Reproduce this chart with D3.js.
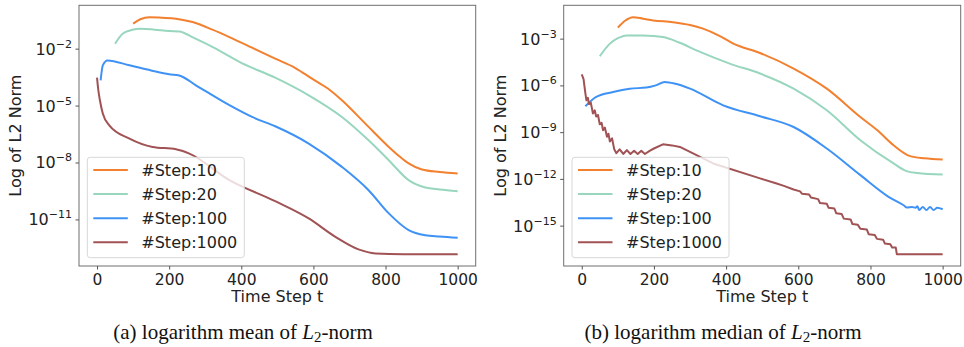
<!DOCTYPE html>
<html>
<head>
<meta charset="utf-8">
<script src="https://cdn.jsdelivr.net/npm/d3@7"></script>
<style>
  body { margin: 0; background: #fff; }
  svg { display: block; }
</style>
</head>
<body>
<div id="chart"></div>
<script>
// Series as [time step, log10 of L2 norm].
const stepLabels = ["#Step:10", "#Step:20", "#Step:100", "#Step:1000"];
const colors = ["#f2802f", "#98d6bd", "#3f92f5", "#a05254"];

const meanStep10 = [[100,-0.68],[120,-0.45],[145,-0.34],[180,-0.37],[219,-0.42],[265,-0.60],[320,-1.0],[367,-1.39],[430,-1.95],[494,-2.53],[550,-3.02],[596,-3.58],[640,-4.1],[679,-4.72],[744,-5.95],[809,-7.18],[840,-7.7],[864,-8.05],[901,-8.37],[950,-8.5],[1000,-8.58]];
const meanStep20 = [[50,-1.74],[71,-1.21],[95,-1.02],[122,-0.95],[160,-1.0],[200,-1.07],[228,-1.09],[270,-1.45],[321,-1.92],[400,-2.75],[494,-3.53],[587,-4.46],[679,-5.6],[753,-6.83],[809,-7.88],[864,-8.93],[910,-9.32],[950,-9.42],[1000,-9.51]];
const meanStep100 = [[10,-3.67],[16,-2.88],[29,-2.62],[90,-2.88],[150,-3.15],[200,-3.35],[228,-3.41],[274,-3.93],[367,-4.98],[430,-5.6],[494,-6.09],[587,-7.0],[679,-8.23],[753,-9.46],[809,-10.68],[864,-11.56],[910,-11.83],[950,-11.9],[1000,-11.97]];
const meanStep1000 = [[0,-3.53],[3,-4.1],[8,-4.72],[16,-5.42],[34,-6.04],[90,-6.74],[154,-7.18],[219,-7.3],[256,-7.53],[367,-8.93],[494,-10.04],[587,-10.95],[661,-11.92],[725,-12.58],[772,-12.79],[850,-12.83],[1000,-12.83]];

const medianStep10 = [[100,-2.29],[120,-1.85],[142,-1.62],[170,-1.72],[198,-1.83],[253,-1.94],[300,-2.12],[336,-2.36],[380,-2.8],[420,-3.32],[494,-3.92],[587,-4.92],[679,-6.21],[772,-8.03],[820,-8.9],[864,-9.84],[910,-10.54],[950,-10.68],[1000,-10.76]];
const medianStep20 = [[50,-4.13],[78,-3.32],[100,-2.97],[124,-2.79],[170,-2.8],[225,-2.9],[270,-3.25],[318,-3.75],[410,-4.6],[494,-5.24],[587,-6.21],[679,-7.6],[772,-9.52],[864,-11.01],[900,-11.5],[929,-11.62],[1000,-11.72]];
const medianStep100 = [[10,-7.34],[40,-6.74],[87,-6.42],[133,-6.21],[179,-6.14],[205,-6.0],[230,-5.78],[260,-5.9],[300,-6.21],[392,-7.28],[494,-7.98],[587,-8.67],[679,-10.05],[772,-11.76],[850,-13.15],[892,-13.69],[901,-13.83],[915,-13.8],[925,-13.85],[930,-13.75],[935,-14.0],[945,-13.8],[955,-14.0],[965,-13.8],[975,-14.0],[985,-13.85],[1000,-13.95]];
const medianStep1000 = [[0,-5.29],[5,-5.6],[10,-6.5],[13,-6.96],[17,-6.8],[20,-7.2],[25,-7.1],[31,-7.81],[36,-7.6],[40,-8.0],[45,-7.9],[50,-8.5],[55,-8.4],[59,-8.88],[64,-8.7],[70,-9.3],[74,-9.1],[78,-9.6],[84,-9.4],[90,-10.1],[96,-10.35],[105,-10.1],[115,-10.4],[125,-10.15],[135,-10.4],[145,-10.2],[155,-10.4],[165,-10.2],[175,-10.4],[188,-10.2],[200,-10.05],[225,-9.78],[250,-9.85],[272,-9.95],[364,-11.01],[494,-11.97],[540,-12.3],[560,-12.45],[587,-12.68],[605,-12.8],[610,-12.95],[630,-13.0],[635,-13.2],[655,-13.3],[660,-13.55],[679,-13.6],[684,-13.85],[700,-13.9],[705,-14.2],[720,-14.25],[726,-14.55],[745,-14.6],[750,-14.9],[765,-14.95],[772,-15.2],[790,-15.25],[795,-15.55],[812,-15.6],[818,-15.85],[835,-15.9],[840,-16.15],[855,-16.2],[860,-16.4],[870,-16.4],[873,-16.83],[1000,-16.83]];

const xTicks = [0, 200, 400, 600, 800, 1000];
const meanTicks = [-2, -5, -8, -11];
const medianTicks = [-3, -6, -9, -12, -15];

const width = 964;
const height = 347;
const font = "DejaVu Sans, sans-serif";

const svg = d3.select("#chart").append("svg")
  .attr("width", width)
  .attr("height", height)
  .attr("viewBox", [0, 0, width, height]);

function panel(opts) {
  const { left, right, series, ticks, caption, labelX, jagged } = opts;
  const top = 5.3, bottom = 266;

  // matplotlib style 5% margins (in log space for y)
  const all = series.flat();
  const lo = d3.min(all, d => d[1]), hi = d3.max(all, d => d[1]);
  const pad = (hi - lo) * 0.05;
  const x = d3.scaleLinear([-50, 1050], [left, right]);
  const y = d3.scaleLog([Math.pow(10, lo - pad), Math.pow(10, hi + pad)], [bottom, top]);

  series.forEach((s, i) => {
    const line = d3.line()
      .x(d => x(d[0]))
      .y(d => y(Math.pow(10, d[1])))
      .curve(jagged === i ? d3.curveLinear : d3.curveMonotoneX);
    svg.append("path")
      .attr("fill", "none")
      .attr("stroke", colors[i])
      .attr("stroke-width", 2)
      .attr("stroke-linejoin", "round")
      .attr("d", line(s));
  });

  // frame
  svg.append("rect")
    .attr("x", left).attr("y", top)
    .attr("width", right - left).attr("height", bottom - top)
    .attr("fill", "none").attr("stroke", "#6e6e6e").attr("stroke-width", 1);

  // x axis
  svg.append("g")
    .attr("transform", `translate(0,${bottom})`)
    .call(d3.axisBottom(x).tickValues(xTicks).tickFormat(d3.format("d")).tickSize(3.5).tickPadding(4))
    .call(g => g.select(".domain").remove())
    .call(g => g.selectAll(".tick line").attr("stroke", "#555"))
    .call(g => g.selectAll(".tick text")
      .attr("font-family", font).attr("font-size", 15.5).attr("fill", "#222"));

  // y axis, labels as 10 with a superscript exponent
  const yAxis = svg.append("g")
    .attr("transform", `translate(${left},0)`)
    .call(d3.axisLeft(y).tickValues(ticks.map(e => Math.pow(10, e))).tickSize(3.5).tickFormat(""))
    .call(g => g.select(".domain").remove())
    .call(g => g.selectAll(".tick line").attr("stroke", "#555"));
  yAxis.selectAll(".tick").each(function(d) {
    const e = Math.round(Math.log10(d));
    const t = d3.select(this).append("text")
      .attr("x", -7).attr("y", 5.5)
      .attr("text-anchor", "end")
      .attr("font-family", font).attr("font-size", 16).attr("fill", "#222");
    t.append("tspan").text("10");
    t.append("tspan").attr("dy", -7).attr("font-size", 11).text("\u2212" + Math.abs(e));
  });

  // axis titles
  svg.append("text")
    .attr("transform", `translate(${labelX},${(top + bottom) / 2}) rotate(-90)`)
    .attr("text-anchor", "middle")
    .attr("font-family", font).attr("font-size", 16).attr("fill", "#222")
    .text("Log of L2 Norm");
  svg.append("text")
    .attr("x", x(500)).attr("y", 302)
    .attr("text-anchor", "middle")
    .attr("font-family", font).attr("font-size", 16).attr("fill", "#222")
    .text("Time Step t");

  // legend
  const lx = left + 8.3, ly = 157.3;
  const leg = svg.append("g");
  leg.append("rect")
    .attr("x", lx).attr("y", ly).attr("width", 157).attr("height", 100.4)
    .attr("rx", 3)
    .attr("fill", "#fff").attr("fill-opacity", 0.8)
    .attr("stroke", "#d8d8d8");
  stepLabels.forEach((name, i) => {
    const cy = 170 + i * 24.1;
    leg.append("line")
      .attr("x1", lx + 6).attr("x2", lx + 40.5)
      .attr("y1", cy).attr("y2", cy)
      .attr("stroke", colors[i]).attr("stroke-width", 2);
    leg.append("text")
      .attr("x", lx + 54).attr("y", cy + 5.5)
      .attr("font-family", font).attr("font-size", 16).attr("fill", "#222")
      .text(name);
  });

  // caption
  const cap = svg.append("text")
    .attr("x", opts.captionX).attr("y", 339)
    .attr("text-anchor", "middle")
    .attr("font-family", "Liberation Serif, Times New Roman, serif")
    .attr("font-size", 21).attr("fill", "#111");
  cap.append("tspan").text(caption + " ");
  cap.append("tspan").attr("font-style", "italic").text("L");
  cap.append("tspan").attr("font-size", 15).attr("dy", 3).text("2");
  cap.append("tspan").attr("dy", -3).text("-norm");
}

panel({
  left: 79, right: 475.7, labelX: 21,
  series: [meanStep10, meanStep20, meanStep100, meanStep1000],
  ticks: meanTicks,
  caption: "(a) logarithm mean of", captionX: 243
});

panel({
  left: 563.7, right: 960.7, labelX: 506, jagged: 3,
  series: [medianStep10, medianStep20, medianStep100, medianStep1000],
  ticks: medianTicks,
  caption: "(b) logarithm median of", captionX: 723
});
</script>
</body>
</html>
